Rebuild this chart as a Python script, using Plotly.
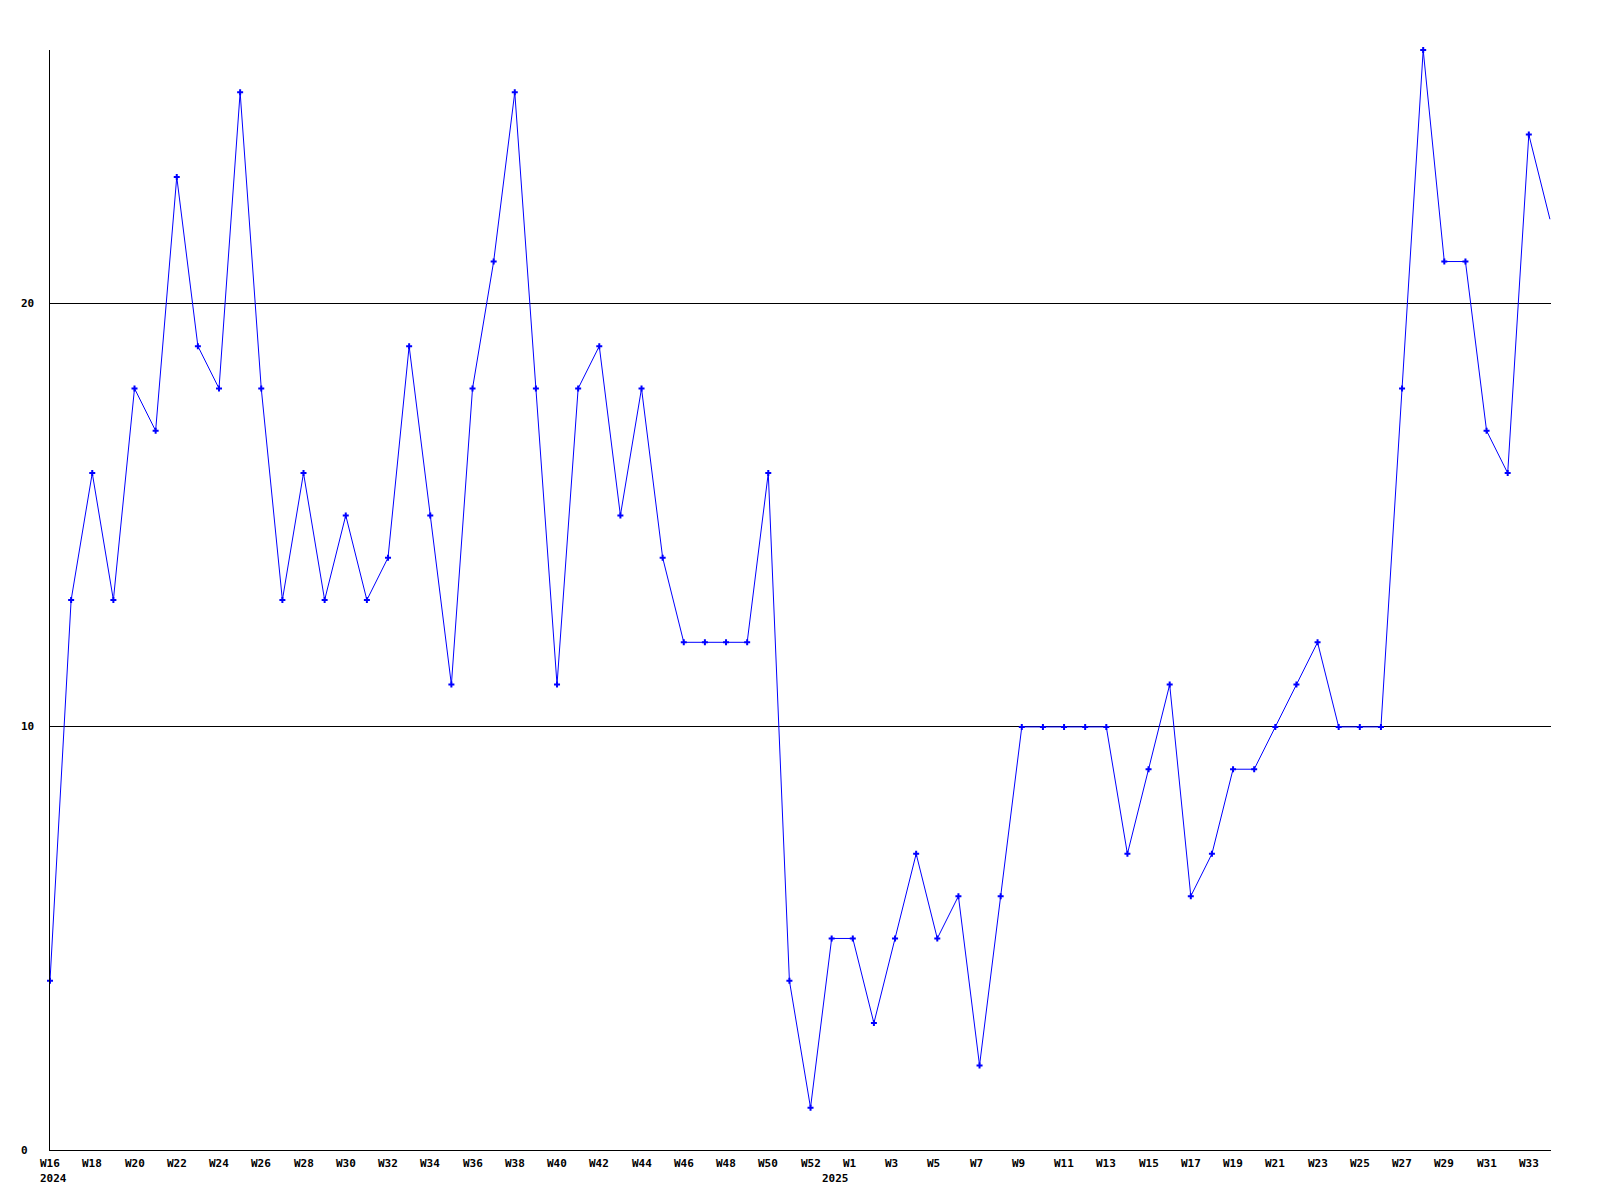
import plotly.graph_objects as go

# weekly values, 2024-W16 .. 2025-W34 (last point runs off the right edge)
weeks = ([f"W{w}" for w in range(16, 53)] + ["W0"] + [f"W{w}" for w in range(1, 35)])
years = ["2024"] * 37 + ["2025"] * 34
values = [4, 13, 16, 13, 18, 17, 23, 19, 18, 25,
          18, 13, 16, 13, 15, 13, 14, 19, 15, 11,
          18, 21, 25, 18, 11, 18, 19, 15, 18, 14,
          12, 12, 12, 12, 16, 4, 1, 5, 5, 3,
          5, 7, 5, 6, 2, 6, 10, 10, 10, 10,
          10, 7, 9, 11, 6, 7, 9, 9, 10, 11,
          12, 10, 10, 10, 18, 26, 21, 21, 17, 16,
          24, 22]
y_ticks = [0, 10, 20]

x = list(range(len(values)))
n_shown = len(values) - 1  # last point is beyond the visible range

fig = go.Figure()
fig.add_trace(go.Scatter(x=x, y=values, mode="lines",
                         line=dict(color="#0000ff", width=1),
                         hoverinfo="skip", showlegend=False))
fig.add_trace(go.Scatter(x=x[:n_shown], y=values[:n_shown], mode="markers",
                         marker=dict(symbol="cross", size=5, color="#0000ff"),
                         cliponaxis=False, showlegend=False))

font = dict(family="DejaVu Sans Mono", size=11, color="black", weight="bold")
ann = []
for i in range(0, n_shown, 2):
    ann.append(dict(x=x[i], y=0, xref="x", yref="paper", text=weeks[i],
                    showarrow=False, xanchor="left", yanchor="top",
                    xshift=-12, yshift=-5, font=font))
prev = None
for i in range(n_shown):
    if years[i] != prev:
        ann.append(dict(x=x[i], y=0, xref="x", yref="paper", text=years[i],
                        showarrow=False, xanchor="left", yanchor="top",
                        xshift=-12, yshift=-20, font=font))
        prev = years[i]
for t in y_ticks:
    ann.append(dict(x=0, y=t, xref="paper", yref="y", text=str(t),
                    showarrow=False, xanchor="left", yanchor="middle",
                    xshift=-31, font=font))

fig.update_layout(
    width=1600, height=1200,
    margin=dict(l=42, r=57, t=42, b=58),
    paper_bgcolor="white", plot_bgcolor="white",
    annotations=ann,
    xaxis=dict(range=[0, 71.05], showgrid=False, zeroline=False,
               showline=True, linecolor="black", linewidth=1,
               showticklabels=False, ticks=""),
    yaxis=dict(range=[0, 26], tickvals=y_ticks, showgrid=True,
               gridcolor="black", gridwidth=1, zeroline=False,
               showline=True, linecolor="black", linewidth=1,
               showticklabels=False, ticks=""),
)
fig.write_html("out.html")
